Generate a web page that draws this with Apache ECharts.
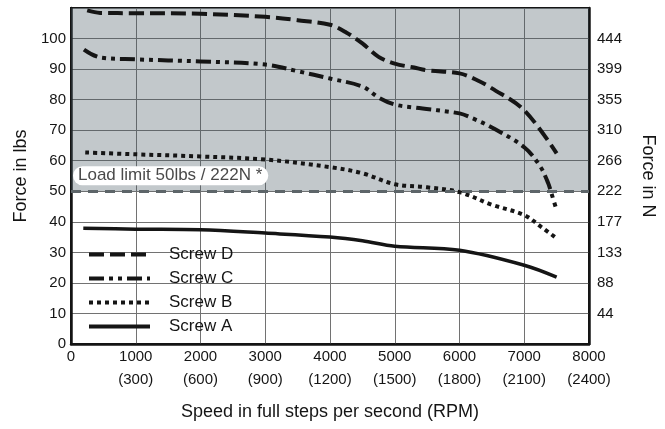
<!DOCTYPE html>
<html><head><meta charset="utf-8">
<script src="https://cdn.jsdelivr.net/npm/echarts@6/dist/echarts.min.js"></script>
<style>html,body{margin:0;padding:0;background:#fff}#c{width:665px;height:429px}</style>
</head><body><div id="c"></div>
<script>
// Speed in full steps per second
const xD = [250, 450, 1000, 2000, 3000, 3500, 4000, 4250, 4500, 4750, 5000, 5300, 5500, 6000, 6250, 6500, 7000, 7500];
const yD = [109.2, 108.4, 108.3, 108.1, 107.1, 106, 104.5, 102, 98.4, 94, 91.8, 90.5, 89.6, 88.6, 86.6, 83.7, 76.5, 62.4];
const xC = [200, 450, 1000, 2000, 3000, 3500, 4000, 4500, 4750, 5000, 5300, 6000, 6200, 6500, 7000, 7250, 7370, 7420, 7500];
const yC = [96.4, 93.8, 93.2, 92.5, 91.5, 89.3, 86.9, 84.3, 80.7, 78.4, 77.4, 75.5, 73.9, 70.9, 64.4, 58, 52.6, 49.3, 43.8];
const xB = [220, 1000, 2000, 3000, 4000, 4500, 5000, 5500, 6000, 6500, 7000, 7270, 7500];
const yB = [62.7, 62.1, 61.4, 60.4, 57.9, 55.9, 52.3, 51.3, 49.7, 45.6, 42.2, 38.2, 34.6];
const xA = [190, 1000, 2000, 3000, 4000, 4500, 5000, 6000, 7000, 7500];
const yA = [37.9, 37.6, 37.4, 36.3, 35, 33.8, 32, 30.7, 25.8, 21.9];
const seriesNames = ['Screw D', 'Screw C', 'Screw B', 'Screw A'];
// tick labels
const rpmLabels = {1000: '(300)', 2000: '(600)', 3000: '(900)', 4000: '(1200)', 5000: '(1500)', 6000: '(1800)', 7000: '(2100)', 8000: '(2400)'};
const newtonLabels = {10: '44', 20: '88', 30: '133', 40: '177', 50: '222', 60: '266', 70: '310', 80: '355', 90: '399', 100: '444'};
const loadLimit = 50;
const yMax = 110;
const loadLabel = 'Load limit 50lbs / 222N *';

const pair = (xs, ys) => xs.map((x, i) => [x, ys[i]]);
const FONT = '"Liberation Sans", Arial, Helvetica, sans-serif';
const ink = '#151515';

const chart = echarts.init(document.getElementById('c'), null, {renderer: 'canvas'});
const lineS = (name, data, type, width) => ({
  name, type: 'line', data, symbol: 'none', smooth: 0.35, z: 3,
  lineStyle: {color: ink, width, type, cap: 'butt', join: 'round'},
  itemStyle: {color: ink}
});
chart.setOption({
  animation: false,
  textStyle: {fontFamily: FONT},
  grid: {left: 71, right: 75, top: 8, bottom: 85, show: true, borderColor: ink, borderWidth: 2, backgroundColor: 'transparent'},
  legend: {
    data: seriesNames, orient: 'vertical', left: 87, top: 246, padding: 0,
    itemWidth: 61, itemHeight: 14, itemGap: 7,
    itemStyle: {opacity: 0},
    lineStyle: {width: 4, type: 'inherit', color: ink, cap: 'butt'},
    textStyle: {fontFamily: FONT, fontSize: 17, color: ink, padding: [0, 0, 0, 14]},
    selectedMode: false
  },
  xAxis: {
    type: 'value', min: 0, max: 8000, interval: 1000,
    axisLine: {show: true, lineStyle: {color: ink, width: 2.5}},
    axisTick: {show: false},
    splitLine: {show: true, lineStyle: {color: '#727272', width: 1}},
    axisLabel: {
      fontFamily: FONT, fontSize: 15, color: ink, margin: 1, lineHeight: 23,
      formatter: v => v === 0 ? '0' : v + '\n' + (rpmLabels[v] || '')
    },
    name: 'Speed in full steps per second (RPM)', nameLocation: 'middle', nameGap: 59,
    nameTextStyle: {fontFamily: FONT, fontSize: 18, color: ink}
  },
  yAxis: [{
    type: 'value', min: 0, max: yMax, interval: 10,
    axisLine: {show: true, lineStyle: {color: ink, width: 2.5}},
    axisTick: {show: false},
    splitLine: {show: true, lineStyle: {color: '#727272', width: 1}},
    axisLabel: {fontFamily: FONT, fontSize: 15, color: ink, margin: 5, formatter: v => v >= yMax ? '' : String(v)},
    name: 'Force in lbs', nameLocation: 'middle', nameGap: 40, nameRotate: 90,
    nameTextStyle: {fontFamily: FONT, fontSize: 18, color: ink}
  }, {
    type: 'value', min: 0, max: yMax, interval: 10, position: 'right',
    axisLine: {show: true, lineStyle: {color: ink, width: 2.5}},
    axisTick: {show: false}, splitLine: {show: false},
    axisLabel: {fontFamily: FONT, fontSize: 15, color: ink, margin: 8, formatter: v => newtonLabels[v] || ''},
    name: 'Force in N', nameLocation: 'middle', nameGap: 50, nameRotate: -90,
    nameTextStyle: {fontFamily: FONT, fontSize: 18, color: ink}
  }],
  series: [
    {
      name: 'limit', type: 'line', data: [], z: 1, silent: true,
      markArea: {silent: true, itemStyle: {color: 'rgba(70,88,97,0.33)'}, data: [[{yAxis: loadLimit}, {yAxis: yMax}]]},
      markLine: {
        silent: true, symbol: 'none',
        lineStyle: {color: '#5d6569', width: 3, type: [10, 7]},
        label: {
          show: true, position: 'insideStartTop', formatter: loadLabel, distance: [2, 6],
          fontFamily: FONT, fontSize: 17, color: '#4a4a4a', backgroundColor: '#fff',
          borderRadius: 10, padding: [1, 6, 1, 5]
        },
        data: [{yAxis: loadLimit}]
      }
    },
    lineS('Screw D', pair(xD, yD), [15, 6], 4),
    lineS('Screw C', pair(xC, yC), [15, 5, 4, 5, 4, 5], 4),
    lineS('Screw B', pair(xB, yB), [4, 4], 4),
    lineS('Screw A', pair(xA, yA), 'solid', 3.5)
  ]
});
</script></body></html>
